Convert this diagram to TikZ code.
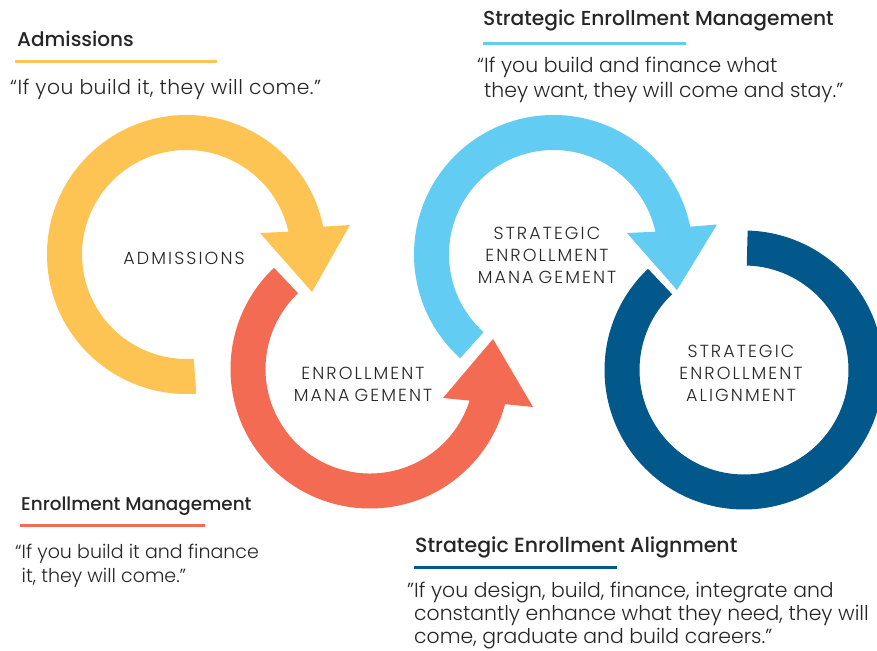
\documentclass[tikz,border=0pt]{standalone}
\usepackage{fontspec}
\setmainfont{Poppins Light}
\newfontfamily\headfont{Poppins Medium}
\newfontfamily\labelfont{Poppins Light}[LetterSpace=12]
\newfontfamily\quotefont{Poppins Light}[LetterSpace=2.5]
\definecolor{admY}{HTML}{FEC453}
\definecolor{enrR}{HTML}{F26B52}
\definecolor{semB}{HTML}{63CCF3}
\definecolor{seaB}{HTML}{02578B}
\definecolor{ink}{HTML}{262626}
\newcommand{\fsz}[1]{\fontsize{#1}{24}\selectfont}
\begin{document}
\begin{tikzpicture}[x=1pt,y=1pt,
  head/.style={anchor=base west,inner sep=0pt,text=ink,font=\headfont\fsz{20}},
  quote/.style={anchor=base west,inner sep=0pt,text=ink,font=\fsz{20}},
  ringlabel/.style={align=center,inner sep=0pt,text=ink,font=\labelfont\fontsize{17.5}{22}\selectfont},
  rule/.style={line width=3pt}]
\useasboundingbox (0,0) rectangle (877,-650);
\fill[white] (0,0) rectangle (877,-650);

\begin{scope}
\clip (0,0) rectangle (877,-650);
% Admissions: yellow ring with arrow
\begin{scope}[shift={(186.5,-254.5)}]
  \fill[admY] (274:139.5) arc[start angle=274,end angle=11.5,radius=139.5]
    -- (163.5,29.5) -- (125.5,-37.5) -- (73.5,21.5)
    -- (12.6:104.5) arc[start angle=12.6,end angle=274,radius=104.5] -- cycle;
\end{scope}
% Strategic enrollment management: light blue ring with arrow
\begin{scope}[shift={(553.5,-254.5)}]
  \fill[semB] (228:139.5) arc[start angle=228,end angle=11.5,radius=139.5]
    -- (163.5,30) -- (123.5,-35.5) -- (73.5,21.5)
    -- (12.6:104.5) arc[start angle=12.6,end angle=228,radius=104.5] -- cycle;
\end{scope}
% Enrollment management: red ring with arrow
\begin{scope}[shift={(370,-369)}]
  \fill[enrR] (133.5:139.5) arc[start angle=133.5,end angle=345.4,radius=139.5]
    -- (163,-38) -- (123,30) -- (73,-29)
    -- (342.4:104.5) arc[start angle=342.4,end angle=133.5,radius=104.5] -- cycle;
\end{scope}
% Strategic enrollment alignment: dark blue ring
\begin{scope}[shift={(744,-370)}]
  \fill[seaB] (133.5:139.5) arc[start angle=133.5,end angle=448.5,radius=139.5]
    -- (448.5:104.5) arc[start angle=448.5,end angle=133.5,radius=104.5] -- cycle;
\end{scope}
\end{scope}

% ring labels
\node[ringlabel] (lblA) at (184,-258) {ADMISSIONS};
\node[ringlabel] (lblE) at (363,-384) {ENROLLMENT\\MANA\hspace{5pt}GEMENT};
\node[ringlabel] (lblS) at (547,-255) {STRATEGIC\\ENROLLMENT\\MANA\hspace{5pt}GEMENT};
\node[ringlabel] (lblT) at (741,-373) {STRATEGIC\\ENROLLMENT\\ALIGNMENT};

% headings with coloured rules
\node[head] (hA) at (17,-47) {Admissions};
\draw[rule,admY] (15,-62) coordinate (rA1) -- (217,-62) coordinate (rA2);
\node[quote,font=\quotefont\fsz{20.3}] (qA) at (10,-95) {“If you build it, they will come.”};

\node[head,font=\headfont\fsz{20.2}] (hS) at (483,-26) {Strategic Enrollment Management};
\draw[rule,semB] (483,-44) coordinate (rS1) -- (686,-44) coordinate (rS2);
\node[quote,font=\fsz{20.4}] (qS1) at (477,-73) {“If you build and finance what};
\node[quote,font=\fsz{20.4}] (qS2) at (477,-98) {\phantom{“}they want, they will come and stay.”};

\node[head,font=\headfont\fsz{18.4}] (hE) at (21,-510) {Enrollment Management};
\draw[rule,enrR] (20,-525) coordinate (rE1) -- (205,-525) coordinate (rE2);
\node[quote,font=\fsz{19}] (qE1) at (15,-558) {“If you build it and finance};
\node[quote,font=\fsz{19}] (qE2) at (15,-582) {\phantom{“}it, they will come.”};

\node[head,font=\headfont\fsz{20.5}] (hT) at (415,-552) {Strategic Enrollment Alignment};
\draw[rule,seaB] (414,-567.5) coordinate (rT1) -- (617,-567.5) coordinate (rT2);
\node[quote,font=\fsz{20.4}] (qT1) at (407,-597) {"If you design, build, finance, integrate and};
\node[quote,font=\fsz{20.4}] (qT2) at (407,-620) {\phantom{"}constantly enhance what they need, they will};
\node[quote,font=\fsz{20.4}] (qT3) at (407,-643) {\phantom{"}come, graduate and build careers."};
\end{tikzpicture}
\end{document}
